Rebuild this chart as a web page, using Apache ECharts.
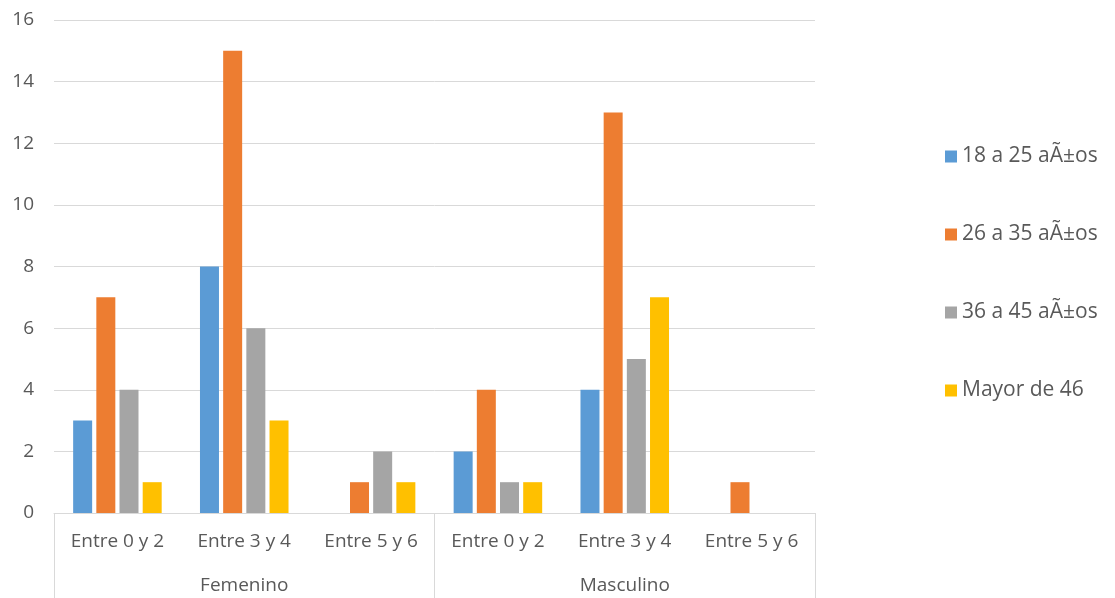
<!DOCTYPE html>
<html>
<head>
<meta charset="utf-8">
<script src="https://cdn.jsdelivr.net/npm/echarts@6/dist/echarts.min.js"></script>
<style>
  html, body { margin: 0; padding: 0; background: #fff; }
  #chart { width: 1115px; height: 598px; }
</style>
</head>
<body>
<div id="chart"></div>
<script>
// Sub-categories (years range) repeated under each gender group
const categories = ['Entre 0 y 2', 'Entre 3 y 4', 'Entre 5 y 6', 'Entre 0 y 2', 'Entre 3 y 4', 'Entre 5 y 6'];
const groups = ['Femenino', 'Masculino'];
const seriesNames = ['18 a 25 aÃ±os', '26 a 35 aÃ±os', '36 a 45 aÃ±os', 'Mayor de 46'];

const age18to25 = [3, 8, 0, 2, 4, 0];
const age26to35 = [7, 15, 1, 4, 13, 1];
const age36to45 = [4, 6, 2, 1, 5, 0];
const age46plus = [1, 3, 1, 1, 7, 0];

const yTicks = { min: 0, max: 16, interval: 2 };

const colors = ['#5b9bd5', '#ed7d31', '#a5a5a5', '#ffc000'];
const values = [age18to25, age26to35, age36to45, age46plus];
const font = 'Open Sans';
const textColor = '#595959';
const lineColor = '#d9d9d9';

const chart = echarts.init(document.getElementById('chart'));
chart.setOption({
  animation: false,
  color: colors,
  textStyle: { fontFamily: font },
  grid: { left: 54, right: 300, top: 20, bottom: 85 },
  legend: {
    orient: 'vertical',
    left: 940,
    top: 141,
    itemWidth: 12,
    itemHeight: 12,
    itemGap: 57,
    icon: 'rect',
    textStyle: { fontFamily: font, fontSize: 21, color: textColor },
    data: seriesNames
  },
  xAxis: [
    {
      type: 'category',
      data: categories,
      axisLine: { lineStyle: { color: lineColor } },
      axisTick: { show: false },
      axisLabel: { fontFamily: font, fontSize: 19, color: textColor, margin: 19, interval: 0 }
    },
    {
      type: 'category',
      data: groups,
      position: 'bottom',
      axisLine: { show: false },
      axisTick: { show: true, length: 85, lineStyle: { color: lineColor } },
      axisLabel: { fontFamily: font, fontSize: 19, color: textColor, margin: 63, interval: 0 }
    }
  ],
  yAxis: {
    type: 'value',
    min: yTicks.min,
    max: yTicks.max,
    interval: yTicks.interval,
    axisLine: { show: false },
    axisTick: { show: false },
    splitLine: { lineStyle: { color: lineColor } },
    axisLabel: { fontFamily: font, fontSize: 19, color: textColor, margin: 20 }
  },
  series: seriesNames.map((name, i) => ({
    name,
    type: 'bar',
    xAxisIndex: 0,
    data: values[i],
    barWidth: 19,
    barGap: '22%'
  }))
});
</script>
</body>
</html>
